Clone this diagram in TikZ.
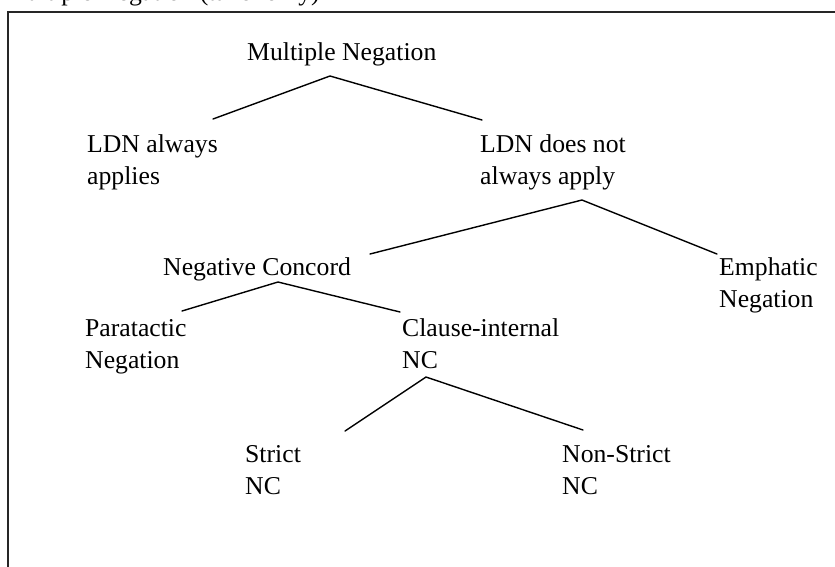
\documentclass[tikz,border=0pt]{standalone}
\usepackage{fontspec}
\setmainfont{Liberation Serif}
\begin{document}
\begin{tikzpicture}[x=1pt,y=-1pt,
  lbl/.style={anchor=base west, inner sep=0pt, align=left,
              font=\fontsize{25.7}{32}\selectfont},
  branch/.style={line width=1.4pt, line cap=round},
  frame/.style={line width=1.5pt, black!85}]
\useasboundingbox (0,0) rectangle (835,566);
\clip (0,0) rectangle (835,566);

% caption line running off the top edge
\node[lbl] (caption) at (4,0) {Multiple Negation (taxonomy)};
% surrounding box
\draw[frame] (8,600) |- (900,12);

% labels of the tree (base = baseline of the last line)
\node[lbl] (mn)        at (247,60)  {Multiple Negation};
\node[lbl] (ldnA)      at (87,184)  {LDN always\\applies};
\node[lbl] (ldnB)      at (480,184) {LDN does not\\always apply};
\node[lbl] (nc)        at (163,275) {Negative Concord};
\node[lbl] (emph)      at (719,307) {Emphatic\\Negation};
\node[lbl] (para)      at (85,368)  {Paratactic\\Negation};
\node[lbl] (ci)        at (402,368) {Clause-internal\\NC};
\node[lbl] (strict)    at (245,494) {Strict\\NC};
\node[lbl] (nonstrict) at (562,494) {Non-Strict\\NC};

% branch end points
\coordinate (mn-b)        at (330,76);
\coordinate (ldnA-t)      at (213,119);
\coordinate (ldnB-t)      at (482,120);
\coordinate (ldnB-b)      at (582,200);
\coordinate (nc-t)        at (370,254);
\coordinate (emph-t)      at (717,254);
\coordinate (nc-b)        at (278,282);
\coordinate (para-t)      at (182,311);
\coordinate (ci-t)        at (400,312);
\coordinate (ci-b)        at (426,377);
\coordinate (strict-t)    at (345,431);
\coordinate (nonstrict-t) at (583,430);

% branches
\draw[branch] (ldnA-t) -- (mn-b) -- (ldnB-t);
\draw[branch] (nc-t) -- (ldnB-b) -- (emph-t);
\draw[branch] (para-t) -- (nc-b) -- (ci-t);
\draw[branch] (strict-t) -- (ci-b) -- (nonstrict-t);
\end{tikzpicture}
\end{document}
